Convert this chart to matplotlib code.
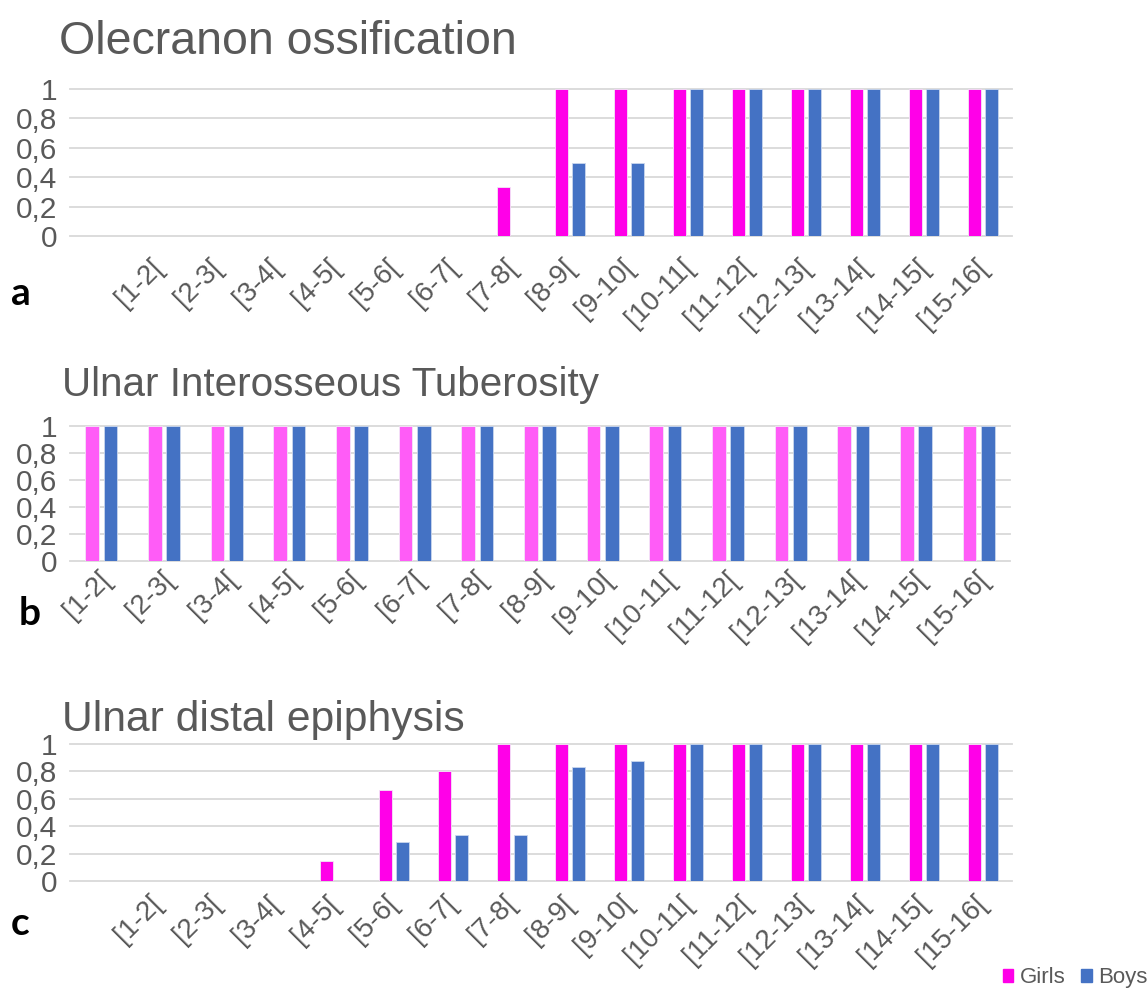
import numpy as np
import matplotlib.pyplot as plt
from matplotlib.patches import Patch
from matplotlib.transforms import ScaledTranslation

plt.rcParams['font.family'] = ['Liberation Sans', 'DejaVu Sans']

age_groups = ['[1-2[', '[2-3[', '[3-4[', '[4-5[', '[5-6[', '[6-7[', '[7-8[', '[8-9[',
              '[9-10[', '[10-11[', '[11-12[', '[12-13[', '[13-14[', '[14-15[', '[15-16[']

# proportion ossified per age group
olecranon_girls = [0, 0, 0, 0, 0, 0, 0.333, 1, 1, 1, 1, 1, 1, 1, 1]
olecranon_boys = [0, 0, 0, 0, 0, 0, 0, 0.5, 0.5, 1, 1, 1, 1, 1, 1]

tuberosity_girls = [1, 1, 1, 1, 1, 1, 1, 1, 1, 1, 1, 1, 1, 1, 1]
tuberosity_boys = [1, 1, 1, 1, 1, 1, 1, 1, 1, 1, 1, 1, 1, 1, 1]

distal_girls = [0, 0, 0, 0.143, 0.667, 0.8, 1, 1, 1, 1, 1, 1, 1, 1, 1]
distal_boys = [0, 0, 0, 0, 0.286, 0.333, 0.333, 0.833, 0.875, 1, 1, 1, 1, 1, 1]

GIRLS = '#ff00e8'
GIRLS_LIGHT = '#ff5cf7'
BOYS = '#4472c4'
TEXT = '#595959'
GRID = '#d9d9d9'

W, H = 1148, 988
fig = plt.figure(figsize=(W / 100, H / 100), dpi=100)


def px_axes(x0, x1, ytop, ybot):
    return fig.add_axes([x0 / W, 1 - ybot / H, (x1 - x0) / W, (ybot - ytop) / H])


def bar_panel(ax, girls, boys, girls_color, xlim, label_pad, label_shift):
    x = np.arange(len(age_groups))
    ax.bar(x - 0.145, girls, width=0.22, color=girls_color,
           edgecolor='#f3e6f7', linewidth=0.6, zorder=3)
    ax.bar(x + 0.145, boys, width=0.22, color=BOYS,
           edgecolor='#c9d6ee', linewidth=0.6, zorder=3)
    ax.set_xlim(*xlim)
    ax.set_ylim(0, 1)
    ax.set_yticks([0, 0.2, 0.4, 0.6, 0.8, 1])
    ax.set_yticklabels(['0', '0,2', '0,4', '0,6', '0,8', '1'])
    ax.set_xticks(x)
    ax.set_xticklabels(age_groups, rotation=45, ha='right', rotation_mode='anchor')
    ax.tick_params(axis='y', length=0, pad=9, labelsize=21.5, labelcolor=TEXT)
    ax.tick_params(axis='x', length=0, pad=label_pad, labelsize=20, labelcolor=TEXT)
    # nudge the slanted labels so their ends sit under the bar pairs
    shift = ScaledTranslation(label_shift / 100, 0, fig.dpi_scale_trans)
    for lab in ax.get_xticklabels():
        lab.set_transform(lab.get_transform() + shift)
    ax.grid(axis='y', color=GRID, linewidth=1.3, zorder=0)
    for line in ax.get_ygridlines():
        line.set_clip_on(False)
    for s in ax.spines.values():
        s.set_visible(False)
    ax.set_facecolor('none')


ax_a = px_axes(70, 1012, 89, 236)
bar_panel(ax_a, olecranon_girls, olecranon_boys, GIRLS, (-1.5, 14.5), 13, -8)

ax_b = px_axes(70, 1010, 426, 561)
bar_panel(ax_b, tuberosity_girls, tuberosity_boys, GIRLS_LIGHT, (-0.5, 14.5), 4, -3)

ax_c = px_axes(70, 1012, 744, 881)
bar_panel(ax_c, distal_girls, distal_boys, GIRLS, (-1.5, 14.5), 7, -9)

# panel titles
title_style = dict(color=TEXT, va='baseline', ha='left')
fig.text(59 / W, 1 - 54 / H, 'Olecranon ossification', fontsize=33.5, **title_style)
fig.text(62 / W, 1 - 396 / H, 'Ulnar Interosseous Tuberosity', fontsize=29.1, **title_style)
fig.text(62 / W, 1 - 731 / H, 'Ulnar distal epiphysis', fontsize=30.7, **title_style)

# panel letters
letter_style = dict(fontsize=28, fontweight='bold', color='black', va='baseline',
                    ha='left', family=['Lato', 'DejaVu Sans'])
fig.text(11 / W, 1 - 305 / H, 'a', **letter_style)
fig.text(19 / W, 1 - 625 / H, 'b', **letter_style)
fig.text(11 / W, 1 - 935 / H, 'c', **letter_style)

handles = [Patch(color=GIRLS, label='Girls'), Patch(color=BOYS, label='Boys')]
fig.legend(handles=handles, loc='lower left', bbox_to_anchor=(987 / W, -16 / H),
           ncol=2, frameon=False, fontsize=16, labelcolor=TEXT,
           handlelength=0.48, handleheight=0.48, handletextpad=0.3,
           columnspacing=0.7, borderpad=0.2)

fig.savefig('out.png', dpi=100, facecolor='white')
